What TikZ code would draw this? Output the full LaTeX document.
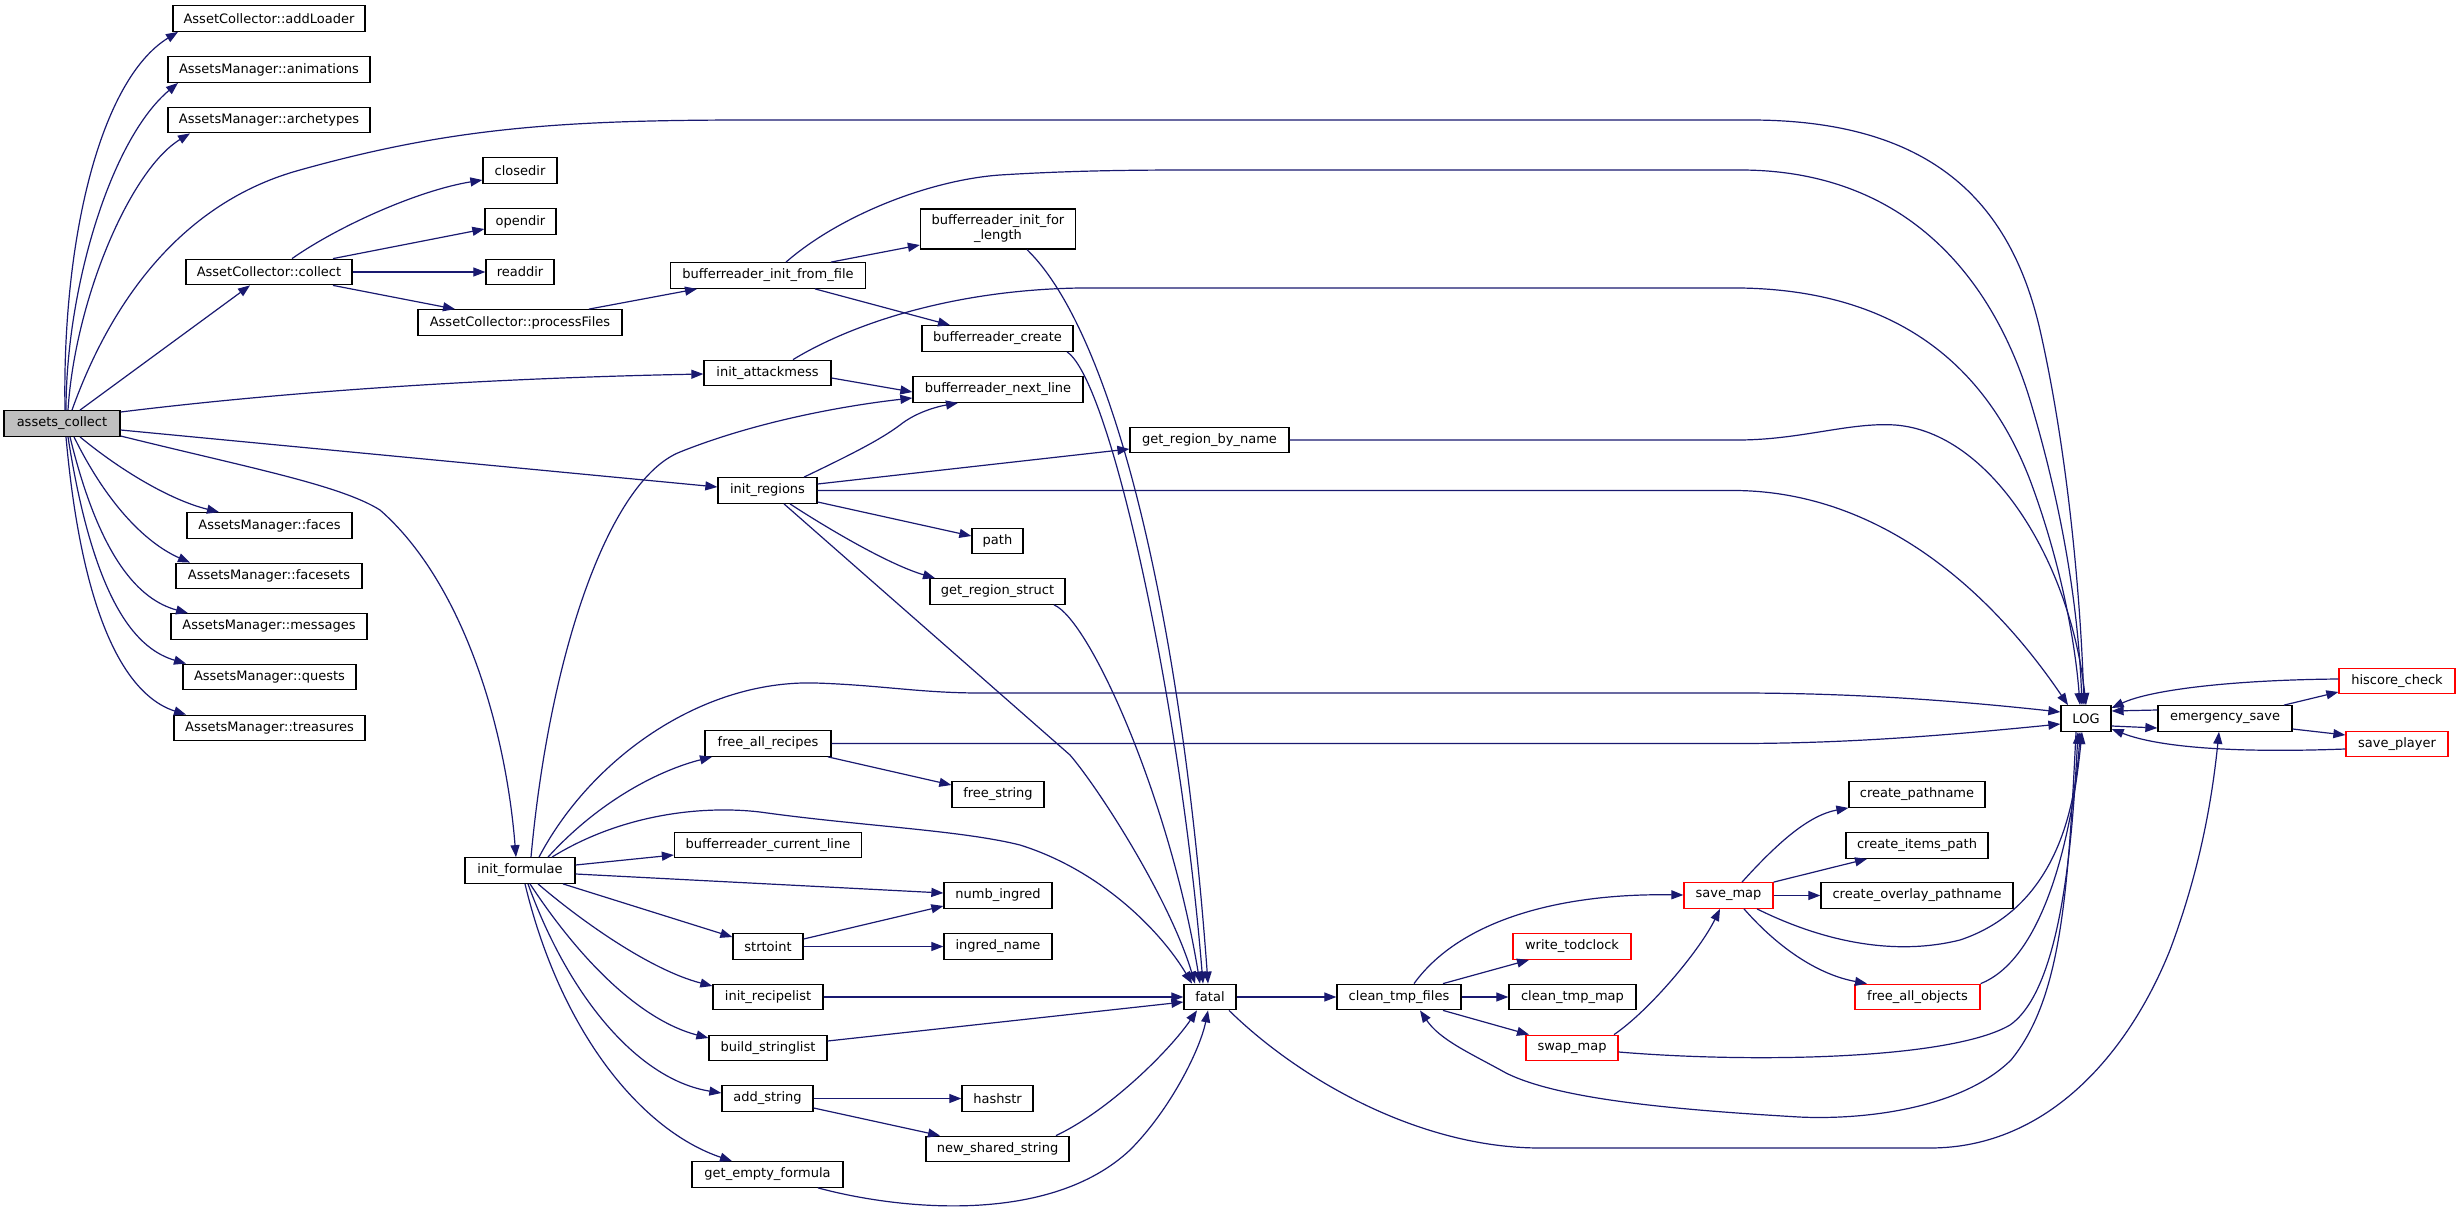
\documentclass[tikz,border=0pt]{standalone}
\usepackage{fontspec}
\setmainfont{DejaVu Sans}
\usetikzlibrary{arrows.meta}
\definecolor{edgec}{HTML}{191970}
\definecolor{grayfill}{HTML}{BFBFBF}
\tikzset{
  fn/.style={draw=black, line width=1.3pt, fill=white, inner sep=0pt, minimum height=25.5pt, font=\fontsize{13}{15}\selectfont, text=black},
  rn/.style={fn, draw=red},
  edg/.style={draw=edgec, line width=1.2pt, -{Triangle[length=12pt,width=9pt]}}
}
\begin{document}
\begin{tikzpicture}[x=1pt,y=-1pt]
\useasboundingbox (0,0) rectangle (2460,1209);
\fill[white] (0,0) rectangle (2460,1209);
% nodes
\node[fn, fill=grayfill, minimum width=116pt] (assets) at (62,423.5) {assets\_collect};
\node[fn, minimum width=192pt] (addLoader) at (269,18.5) {AssetCollector::addLoader};
\node[fn, minimum width=202pt] (animations) at (269,69.5) {AssetsManager::animations};
\node[fn, minimum width=202pt] (archetypes) at (269,120) {AssetsManager::archetypes};
\node[fn, minimum width=166pt] (collect) at (269,272) {AssetCollector::collect};
\node[fn, minimum width=165pt] (faces) at (269.5,525.5) {AssetsManager::faces};
\node[fn, minimum width=186pt] (facesets) at (269,576) {AssetsManager::facesets};
\node[fn, minimum width=196pt] (messages) at (269,626.5) {AssetsManager::messages};
\node[fn, minimum width=173pt] (quests) at (269.5,677) {AssetsManager::quests};
\node[fn, minimum width=191pt] (treasures) at (269.5,728) {AssetsManager::treasures};
\node[fn, minimum width=110pt] (formulae) at (520,870.5) {init\_formulae};
\node[fn, minimum width=74pt] (closedir) at (520,170.5) {closedir};
\node[fn, minimum width=71pt] (opendir) at (520.5,221.5) {opendir};
\node[fn, minimum width=68pt] (readdir) at (520,272) {readdir};
\node[fn, minimum width=204pt] (processFiles) at (520,322.5) {AssetCollector::processFiles};
\node[fn, minimum width=195pt] (iff) at (768,275.5) {bufferreader\_init\_from\_file};
\node[fn, minimum width=127pt] (attack) at (767.5,373) {init\_attackmess};
\node[fn, minimum width=99pt] (regions) at (767.5,490.5) {init\_regions};
\node[fn, minimum width=126pt] (frecipes) at (768,743.5) {free\_all\_recipes};
\node[fn, minimum width=187pt] (curline) at (768,845) {bufferreader\_current\_line};
\node[fn, minimum width=70pt] (strtoint) at (768,946.5) {strtoint};
\node[fn, minimum width=110pt] (recipelist) at (768,997) {init\_recipelist};
\node[fn, minimum width=118pt] (build) at (768,1048) {build\_stringlist};
\node[fn, minimum width=91pt] (add) at (767.5,1098.5) {add\_string};
\node[fn, minimum width=151pt] (gef) at (767.5,1174.5) {get\_empty\_formula};
\node[fn, minimum width=155pt, minimum height=40pt, align=center] (ifl) at (998,229) {bufferreader\_init\_for\\\_length};
\node[fn, minimum width=151pt] (create) at (997.5,338.5) {bufferreader\_create};
\node[fn, minimum width=170pt] (next) at (998,389.5) {bufferreader\_next\_line};
\node[fn, minimum width=51pt] (path) at (997.5,541) {path};
\node[fn, minimum width=135pt] (grs) at (997.5,591.5) {get\_region\_struct};
\node[fn, minimum width=92pt] (fstring) at (998,794.5) {free\_string};
\node[fn, minimum width=108pt] (numb) at (998,895.5) {numb\_ingred};
\node[fn, minimum width=108pt] (ingred) at (998,946.5) {ingred\_name};
\node[fn, minimum width=71pt] (hashstr) at (997.5,1098.5) {hashstr};
\node[fn, minimum width=143pt] (nss) at (997.5,1149) {new\_shared\_string};
\node[fn, minimum width=159pt] (grbn) at (1209.5,440) {get\_region\_by\_name};
\node[fn, minimum width=52pt] (fatal) at (1210,997) {fatal};
\node[fn, minimum width=124pt] (ctf) at (1399,997) {clean\_tmp\_files};
\node[rn, minimum width=118pt] (write) at (1572,946.5) {write\_todclock};
\node[fn, minimum width=127pt] (ctm) at (1572.5,997) {clean\_tmp\_map};
\node[rn, minimum width=92pt] (swap) at (1572,1048) {swap\_map};
\node[rn, minimum width=89pt] (save) at (1728.5,895.5) {save\_map};
\node[fn, minimum width=136pt] (cpath) at (1917,794.5) {create\_pathname};
\node[fn, minimum width=142pt] (items) at (1917,845.5) {create\_items\_path};
\node[fn, minimum width=192pt] (overlay) at (1917,895.5) {create\_overlay\_pathname};
\node[rn, minimum width=125pt] (fao) at (1917.5,997) {free\_all\_objects};
\node[fn, minimum width=50pt] (LOG) at (2086,718.5) {LOG};
\node[fn, minimum width=134pt] (emerg) at (2225,718.5) {emergency\_save};
\node[rn, minimum width=116pt] (hiscore) at (2397,681) {hiscore\_check};
\node[rn, minimum width=102pt] (splayer) at (2397,744) {save\_player};
% edges from assets_collect
\draw[edg] (assets.north -| 65,0) .. controls (62,240) and (100,80) .. (addLoader.south -| 178,0);
\draw[edg] (assets.north -| 66,0) .. controls (66,290) and (110,140) .. (animations.south -| 178,0);
\draw[edg] (assets.north -| 68,0) .. controls (75,300) and (130,170) .. (archetypes.south -| 190,0);
\draw[edg] (assets.north -| 72,0) .. controls (115,290) and (190,200) .. (300,170) .. controls (450,128) and (560,120) .. (750,120) -- (1750,120) .. controls (1930,120) and (2010,200) .. (2040,330) .. controls (2065,440) and (2080,580) .. (LOG.north -| 2084,0);
\draw[edg] (assets.north -| 80,0) -- (collect.south -| 250,0);
\draw[edg] (assets.east |- 0,412) .. controls (300,390) and (500,378) .. (attack.west |- 0,374);
\draw[edg] (assets.east |- 0,430) -- (regions.west |- 0,487);
\draw[edg] (assets.east |- 0,436) .. controls (250,468) and (340,485) .. (380,510) .. controls (460,580) and (505,720) .. (formulae.north -| 516,0);
\draw[edg] (assets.south -| 80,0) .. controls (120,470) and (170,500) .. (faces.north -| 219,0);
\draw[edg] (assets.south -| 74,0) .. controls (110,510) and (150,545) .. (facesets.north -| 190,0);
\draw[edg] (assets.south -| 70,0) .. controls (100,560) and (140,600) .. (messages.north -| 188,0);
\draw[edg] (assets.south -| 68,0) .. controls (95,610) and (140,650) .. (quests.north -| 186,0);
\draw[edg] (assets.south -| 66,0) .. controls (85,650) and (140,700) .. (treasures.north -| 186,0);
% collect
\draw[edg] (collect.north -| 292,0) .. controls (340,225) and (420,190) .. (closedir.west |- 0,180);
\draw[edg] (collect.north -| 333,0) -- (opendir.west |- 0,229);
\draw[edg] (collect) -- (readdir);
\draw[edg] (collect.south -| 333,0) -- (processFiles.north -| 455,0);
\draw[edg] (processFiles.north -| 589,0) -- (iff.south -| 697,0);
% bufferreader_init_from_file
\draw[edg] (iff.north -| 831,0) -- (ifl.west |- 0,245);
\draw[edg] (iff.south -| 815,0) -- (create.north -| 950,0);
\draw[edg] (iff.north -| 786,0) .. controls (840,215) and (930,180) .. (1000,175) .. controls (1080,170) and (1150,170) .. (1200,170) -- (1740,170) .. controls (1900,170) and (1990,270) .. (2030,400) .. controls (2060,500) and (2078,600) .. (LOG.north -| 2082,0);
\draw[edg] (ifl.south -| 1027,0) .. controls (1110,330) and (1180,600) .. (fatal.north -| 1208,0);
\draw[edg] (create.south -| 1067,0) .. controls (1110,380) and (1180,700) .. (fatal.north -| 1203,0);
% init_attackmess
\draw[edg] (attack.north -| 793,0) .. controls (850,325) and (950,290) .. (1080,288) -- (1740,288) .. controls (1880,290) and (1980,350) .. (2030,480) .. controls (2060,560) and (2075,640) .. (LOG.north -| 2080,0);
\draw[edg] (attack.east |- 0,378) -- (next.west |- 0,392);
% init_regions
\draw[edg] (regions.north -| 804,0) .. controls (850,455) and (880,440) .. (900,425) .. controls (915,413) and (935,407) .. (next.south -| 958,0);
\draw[edg] (regions.east |- 0,484) -- (grbn.west |- 0,449);
\draw[edg] (regions) -- (1736,490.5) .. controls (1880,492) and (1990,590) .. (LOG.north -| 2068,0);
\draw[edg] (regions.east |- 0,502) -- (path.west |- 0,536);
\draw[edg] (regions.south -| 790,0) .. controls (830,530) and (890,565) .. (grs.north -| 935,0);
\draw[edg] (regions.south -| 784,0) -- (1070,755) .. controls (1100,790) and (1170,900) .. (fatal.north -| 1195,0);
\draw[edg] (grbn) -- (1738,440) .. controls (1800,440) and (1850,422) .. (1895,425) .. controls (1990,432) and (2070,560) .. (LOG.north -| 2086,0);
\draw[edg] (grs.south -| 1054,0) .. controls (1090,620) and (1170,800) .. (fatal.north -| 1200,0);
% init_formulae
\draw[edg] (formulae.north -| 531,0) .. controls (550,650) and (610,480) .. (680,452) .. controls (760,420) and (850,405) .. (next.west |- 0,398);
\draw[edg] (formulae.north -| 539,0) .. controls (590,760) and (700,680) .. (815,683) .. controls (880,685) and (920,693) .. (980,693) -- (1737,693) .. controls (1850,693) and (1950,700) .. (LOG.west |- 0,712);
\draw[edg] (formulae.north -| 548,0) .. controls (600,800) and (660,770) .. (frecipes.south -| 712,0);
\draw[edg] (frecipes) -- (1737,743.5) .. controls (1850,743.5) and (1950,735) .. (LOG.west |- 0,724);
\draw[edg] (frecipes.south -| 828,0) -- (fstring.west |- 0,785);
\draw[edg] (formulae.north -| 552,0) .. controls (620,815) and (700,805) .. (760,812) .. controls (860,826) and (960,830) .. (1020,845) .. controls (1100,870) and (1160,930) .. (fatal.north -| 1192,0);
\draw[edg] (formulae.east |- 0,865) -- (curline.west |- 0,855);
\draw[edg] (formulae.east |- 0,874) -- (numb.west |- 0,893);
\draw[edg] (formulae.south -| 563,0) -- (strtoint.west |- 0,937);
\draw[edg] (strtoint.east |- 0,939) -- (numb.west |- 0,906);
\draw[edg] (strtoint) -- (ingred);
\draw[edg] (formulae.south -| 538,0) .. controls (580,920) and (650,970) .. (recipelist.west |- 0,986);
\draw[edg] (recipelist) -- (fatal);
\draw[edg] (formulae.south -| 530,0) .. controls (580,960) and (640,1020) .. (build.west |- 0,1038);
\draw[edg] (build.east |- 0,1041) -- (fatal.west |- 0,1002);
\draw[edg] (formulae.south -| 528,0) .. controls (570,1000) and (640,1080) .. (add.west |- 0,1093);
\draw[edg] (add) -- (hashstr);
\draw[edg] (add.east |- 0,1108) -- (nss.north -| 940,0);
\draw[edg] (nss.north -| 1056,0) .. controls (1110,1110) and (1170,1050) .. (fatal.south -| 1197,0);
\draw[edg] (formulae.south -| 525,0) .. controls (560,1030) and (640,1130) .. (gef.north -| 732,0);
\draw[edg] (gef.south -| 818,0) .. controls (900,1210) and (1050,1225) .. (1130,1150) .. controls (1170,1110) and (1200,1050) .. (fatal.south -| 1208,0);
% fatal
\draw[edg] (fatal) -- (ctf);
\draw[edg] (fatal.south -| 1229,0) .. controls (1300,1080) and (1420,1148) .. (1540,1148) -- (1930,1148) .. controls (2050,1148) and (2130,1050) .. (2170,950) .. controls (2200,870) and (2212,800) .. (emerg.south -| 2219,0);
% clean_tmp_files
\draw[edg] (ctf.north -| 1414,0) .. controls (1460,920) and (1560,893) .. (save.west |- 0,895);
\draw[edg] (ctf.north -| 1443,0) -- (write.south -| 1529,0);
\draw[edg] (ctf) -- (ctm);
\draw[edg] (ctf.south -| 1443,0) -- (swap.north -| 1529,0);
\draw[edg] (swap.north -| 1614,0) .. controls (1650,1010) and (1700,950) .. (save.south -| 1720,0);
\draw[edg] (swap.east |- 0,1052) .. controls (1750,1063) and (1950,1060) .. (2010,1025) .. controls (2060,990) and (2072,850) .. (LOG.south -| 2078,0);
\draw[edg] (LOG.south -| 2076,0) .. controls (2068,900) and (2060,1000) .. (2011,1060) .. controls (1960,1110) and (1860,1120) .. (1799,1117) .. controls (1680,1110) and (1560,1100) .. (1506,1073) .. controls (1470,1053) and (1440,1040) .. (ctf.south -| 1420,0);
% save_map
\draw[edg] (save.north -| 1742,0) .. controls (1780,840) and (1810,815) .. (cpath.south west);
\draw[edg] (save.north east) -- (items.south -| 1867,0);
\draw[edg] (save) -- (overlay);
\draw[edg] (save.south -| 1757,0) .. controls (1830,945) and (1900,955) .. (1960,940) .. controls (2050,910) and (2075,820) .. (LOG.south -| 2080,0);
\draw[edg] (save.south -| 1744,0) .. controls (1780,950) and (1820,975) .. (fao.north -| 1867,0);
\draw[edg] (fao.north east) .. controls (2040,960) and (2070,850) .. (LOG.south -| 2082,0);
% LOG cluster
\draw[edg] (LOG.east |- 0,726) -- (emerg.west |- 0,728);
\draw[edg] (emerg.west |- 0,710) -- (LOG.east |- 0,711);
\draw[edg] (emerg.north -| 2284,0) -- (hiscore.west |- 0,692);
\draw[edg] (emerg.east |- 0,729) -- (splayer.west |- 0,735);
\draw[edg] (hiscore.west |- 0,679) .. controls (2230,680) and (2150,690) .. (LOG.east |- 0,708);
\draw[edg] (splayer.west |- 0,749) .. controls (2240,753) and (2160,748) .. (LOG.east |- 0,729);
\end{tikzpicture}
\end{document}
